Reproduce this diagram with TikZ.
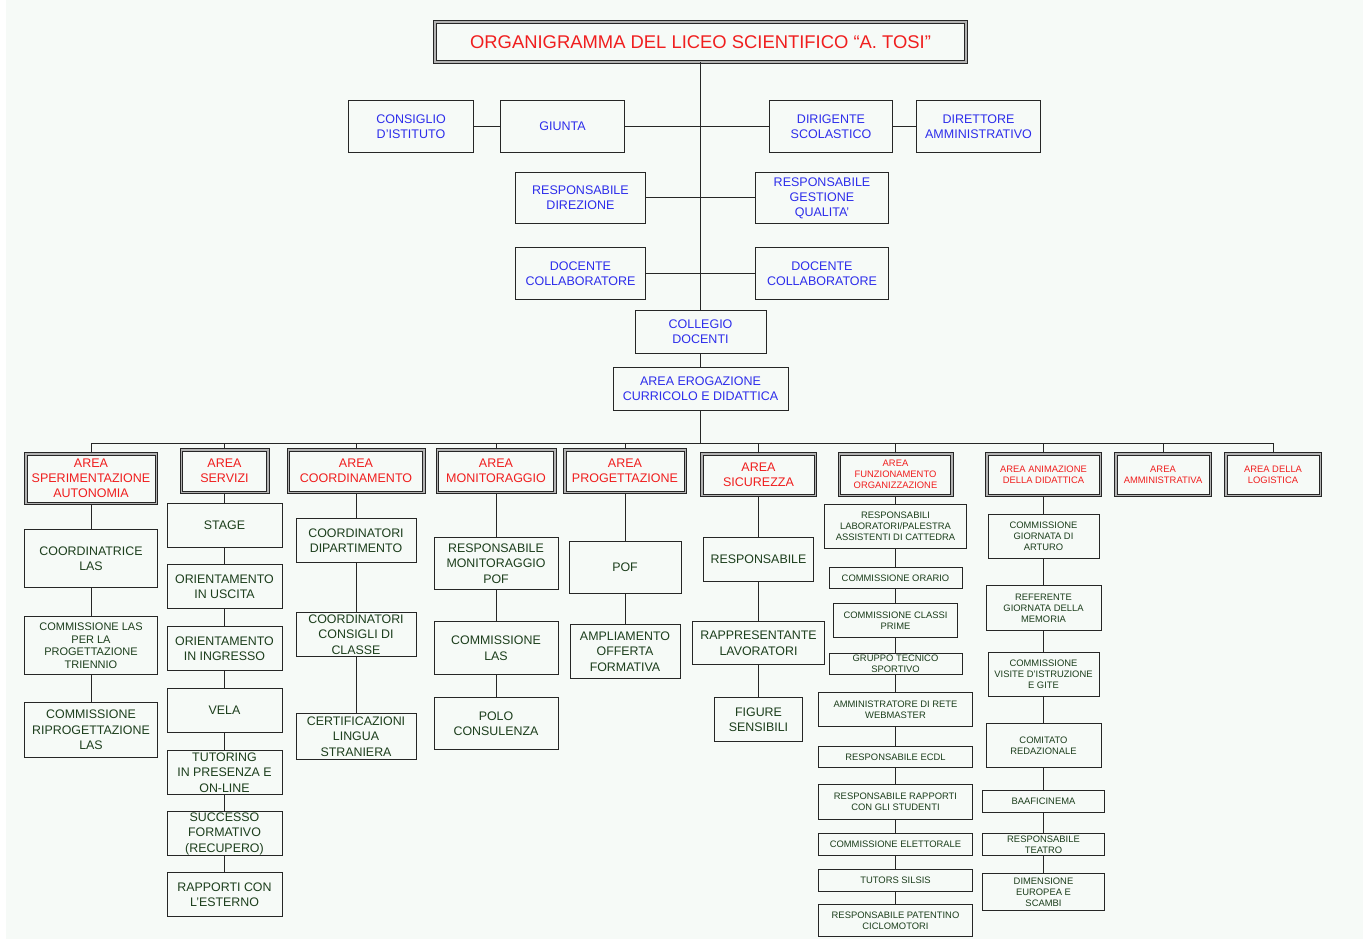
\documentclass[tikz,border=0pt]{standalone}
\usepackage{fontspec}
\setmainfont{Liberation Sans}
\definecolor{pagebg}{RGB}{246,250,247}
\definecolor{orgblue}{RGB}{45,45,235}
\definecolor{orgred}{RGB}{240,30,30}
\definecolor{orggreen}{RGB}{28,62,28}
\begin{document}
\begin{tikzpicture}[x=1pt,y=-1pt,
        box/.style={draw=black!85,line width=1pt,inner sep=0pt,align=center},
        bluebox/.style={box,text=orgblue,font=\fontsize{12.5}{15}\selectfont},
        greenbox/.style={box,text=orggreen,font=\fontsize{12.4}{15.5}\selectfont},
        smallgreen/.style={box,text=orggreen,font=\fontsize{9.4}{11}\selectfont},
        areabox/.style={draw=black!85,line width=1pt,double=gray!60,double distance=1.5pt,inner sep=0pt,align=center,text=orgred,font=\fontsize{12.5}{15}\selectfont},
        smallarea/.style={areabox,font=\fontsize{9.4}{11}\selectfont},
        titlebox/.style={areabox,font=\fontsize{18.4}{22}\selectfont},
        link/.style={line width=1pt,black!85}]
                \useasboundingbox (0,0) rectangle (1371,941);
                \fill[pagebg] (6,0) rectangle (1363,939);
                \node[titlebox,minimum width=531pt,minimum height=40pt] (title) at (700.5,42) {ORGANIGRAMMA DEL LICEO SCIENTIFICO “A. TOSI”};
                \node[bluebox,minimum width=125pt,minimum height=52pt] (consiglio) at (411,126.5) {CONSIGLIO\\D'ISTITUTO};
                \node[bluebox,minimum width=124pt,minimum height=52pt] (giunta) at (562.5,126.5) {GIUNTA};
                \node[bluebox,minimum width=123pt,minimum height=52pt] (dirigente) at (831,126.5) {DIRIGENTE\\SCOLASTICO};
                \node[bluebox,minimum width=124pt,minimum height=52pt] (direttore) at (978.5,126.5) {DIRETTORE\\AMMINISTRATIVO};
                \node[bluebox,minimum width=130pt,minimum height=51pt] (respdir) at (580.5,198) {RESPONSABILE\\DIREZIONE};
                \node[bluebox,minimum width=133pt,minimum height=51pt] (respqual) at (822,198) {RESPONSABILE\\GESTIONE\\QUALITA'};
                \node[bluebox,minimum width=130pt,minimum height=52pt] (docsx) at (580.5,273.5) {DOCENTE\\COLLABORATORE};
                \node[bluebox,minimum width=133pt,minimum height=52pt] (docdx) at (822,273.5) {DOCENTE\\COLLABORATORE};
                \node[bluebox,minimum width=131pt,minimum height=43pt] (collegio) at (700.5,332) {COLLEGIO\\DOCENTI};
                \node[bluebox,minimum width=175pt,minimum height=43pt] (erogazione) at (700.5,389) {AREA EROGAZIONE\\CURRICOLO E DIDATTICA};
                \draw[link] (title) -- (collegio);
                \draw[link] (consiglio) -- (giunta) -- (dirigente) -- (direttore);
                \draw[link] (respdir) -- (respqual);
                \draw[link] (docsx) -- (docdx);
                \draw[link] (collegio) -- (erogazione);
                \node[areabox,minimum width=130.5pt,minimum height=49.5pt] (sperim) at (91,478.5) {AREA\\SPERIMENTAZIONE\\AUTONOMIA};
                \node[areabox,minimum width=86.5pt,minimum height=42.5pt] (servizi) at (224.5,471) {AREA\\SERVIZI};
                \node[areabox,minimum width=135.5pt,minimum height=42.5pt] (coordin) at (356,471) {AREA\\COORDINAMENTO};
                \node[areabox,minimum width=117.5pt,minimum height=42.5pt] (monitor) at (496,471) {AREA\\MONITORAGGIO};
                \node[areabox,minimum width=120.5pt,minimum height=42.5pt] (progett) at (625,471) {AREA\\PROGETTAZIONE};
                \node[areabox,minimum width=113.5pt,minimum height=41.5pt] (sicur) at (758.5,474.5) {AREA\\SICUREZZA};
                \node[smallarea,minimum width=112.5pt,minimum height=41.5pt] (funzion) at (895.5,474.5) {AREA\\FUNZIONAMENTO\\ORGANIZZAZIONE};
                \node[smallarea,minimum width=113.5pt,minimum height=41.5pt] (animaz) at (1043.5,474.5) {AREA ANIMAZIONE\\DELLA DIDATTICA};
                \node[smallarea,minimum width=94.5pt,minimum height=41.5pt] (amminis) at (1163,474.5) {AREA\\AMMINISTRATIVA};
                \node[smallarea,minimum width=94.5pt,minimum height=41.5pt] (logist) at (1273,474.5) {AREA DELLA\\LOGISTICA};
                \coordinate (bus) at (700.5,443);
                \draw[link] (erogazione) -- (bus);
                \draw[link] (sperim.north |- bus) -- (logist.north |- bus);
                \foreach \a in {sperim,servizi,coordin,monitor,progett,sicur,funzion,animaz,amminis,logist}
                    \draw[link] (\a.north) -- (\a.north |- bus);
                \node[greenbox,minimum width=133pt,minimum height=58pt] (coordlas) at (91,558.5) {COORDINATRICE\\LAS};
                \node[greenbox,minimum width=133pt,minimum height=58pt,font=\fontsize{11}{12.5}\selectfont] (commlas) at (91,645.5) {COMMISSIONE LAS\\PER LA\\PROGETTAZIONE\\TRIENNIO};
                \node[greenbox,minimum width=133pt,minimum height=55pt] (riprog) at (91,730) {COMMISSIONE\\RIPROGETTAZIONE\\LAS};
                \draw[link] (sperim) -- (coordlas) -- (commlas) -- (riprog);
                \node[greenbox,minimum width=115pt,minimum height=44pt] (stage) at (224.5,525.5) {STAGE};
                \node[greenbox,minimum width=115pt,minimum height=44pt] (uscita) at (224.5,586.5) {ORIENTAMENTO\\IN USCITA};
                \node[greenbox,minimum width=115pt,minimum height=44pt] (ingresso) at (224.5,648.5) {ORIENTAMENTO\\IN INGRESSO};
                \node[greenbox,minimum width=115pt,minimum height=44pt] (vela) at (224.5,710) {VELA};
                \node[greenbox,minimum width=115pt,minimum height=44pt] (tutoring) at (224.5,772.5) {TUTORING\\IN PRESENZA E\\ON-LINE};
                \node[greenbox,minimum width=115pt,minimum height=44pt] (successo) at (224.5,833.5) {SUCCESSO\\FORMATIVO\\(RECUPERO)};
                \node[greenbox,minimum width=115pt,minimum height=44pt] (esterno) at (224.5,894.5) {RAPPORTI CON\\L'ESTERNO};
                \draw[link] (servizi) -- (stage) -- (uscita) -- (ingresso) -- (vela) -- (tutoring) -- (successo) -- (esterno);
                \node[greenbox,minimum width=120pt,minimum height=44pt] (dipart) at (356,540.5) {COORDINATORI\\DIPARTIMENTO};
                \node[greenbox,minimum width=120pt,minimum height=44pt] (consigli) at (356,634.5) {COORDINATORI\\CONSIGLI DI\\CLASSE};
                \node[greenbox,minimum width=120pt,minimum height=46pt] (certif) at (356,736.5) {CERTIFICAZIONI\\LINGUA\\STRANIERA};
                \draw[link] (coordin) -- (dipart) -- (consigli) -- (certif);
                \node[greenbox,minimum width=124pt,minimum height=52pt] (respmon) at (496,563.5) {RESPONSABILE\\MONITORAGGIO\\POF};
                \node[greenbox,minimum width=124pt,minimum height=53pt] (commmon) at (496,648) {COMMISSIONE\\LAS};
                \node[greenbox,minimum width=124pt,minimum height=52pt] (polo) at (496,723.5) {POLO\\CONSULENZA};
                \draw[link] (monitor) -- (respmon) -- (commmon) -- (polo);
                \node[greenbox,minimum width=112pt,minimum height=52pt] (pof) at (625,567.5) {POF};
                \node[greenbox,minimum width=110pt,minimum height=54pt] (ampliam) at (625,651.5) {AMPLIAMENTO\\OFFERTA\\FORMATIVA};
                \draw[link] (progett) -- (pof) -- (ampliam);
                \node[greenbox,minimum width=110pt,minimum height=44pt] (respsic) at (758.5,559.5) {RESPONSABILE};
                \node[greenbox,minimum width=132pt,minimum height=43pt] (rappr) at (758.5,643) {RAPPRESENTANTE\\LAVORATORI};
                \node[greenbox,minimum width=88pt,minimum height=44pt] (figure) at (758.5,719.5) {FIGURE\\SENSIBILI};
                \draw[link] (sicur) -- (respsic) -- (rappr) -- (figure);
                \node[smallgreen,minimum width=142pt,minimum height=44pt] (laborat) at (895.5,526.5) {RESPONSABILI\\LABORATORI/PALESTRA\\ASSISTENTI DI CATTEDRA};
                \node[smallgreen,minimum width=133pt,minimum height=21pt] (orario) at (895.5,578) {COMMISSIONE ORARIO};
                \node[smallgreen,minimum width=124pt,minimum height=34pt] (prime) at (895.5,620.5) {COMMISSIONE CLASSI\\PRIME};
                \node[smallgreen,minimum width=133pt,minimum height=21pt] (sportivo) at (895.5,664) {GRUPPO TECNICO\\SPORTIVO};
                \node[smallgreen,minimum width=154pt,minimum height=34pt] (webmaster) at (895.5,709.5) {AMMINISTRATORE DI RETE\\WEBMASTER};
                \node[smallgreen,minimum width=154pt,minimum height=21pt] (ecdl) at (895.5,757) {RESPONSABILE ECDL};
                \node[smallgreen,minimum width=154pt,minimum height=35pt] (studenti) at (895.5,802) {RESPONSABILE RAPPORTI\\CON GLI STUDENTI};
                \node[smallgreen,minimum width=154pt,minimum height=22pt] (elettorale) at (895.5,844.5) {COMMISSIONE ELETTORALE};
                \node[smallgreen,minimum width=154pt,minimum height=22pt] (silsis) at (895.5,880.5) {TUTORS SILSIS};
                \node[smallgreen,minimum width=154pt,minimum height=32pt] (patentino) at (895.5,920.5) {RESPONSABILE PATENTINO\\CICLOMOTORI};
                \draw[link] (funzion) -- (laborat) -- (orario) -- (prime) -- (sportivo) -- (webmaster) -- (ecdl) -- (studenti) -- (elettorale) -- (silsis) -- (patentino);
                \node[smallgreen,minimum width=111pt,minimum height=44pt] (arturo) at (1043.5,536.5) {COMMISSIONE\\GIORNATA DI\\ARTURO};
                \node[smallgreen,minimum width=115pt,minimum height=45pt] (memoria) at (1043.5,608) {REFERENTE\\GIORNATA DELLA\\MEMORIA};
                \node[smallgreen,minimum width=111pt,minimum height=44pt] (gite) at (1043.5,674.5) {COMMISSIONE\\VISITE D'ISTRUZIONE\\E GITE};
                \node[smallgreen,minimum width=115pt,minimum height=44pt] (redaz) at (1043.5,745.5) {COMITATO\\REDAZIONALE};
                \node[smallgreen,minimum width=122pt,minimum height=22pt] (baaf) at (1043.5,801.5) {BAAFICINEMA};
                \node[smallgreen,minimum width=122pt,minimum height=22pt] (teatro) at (1043.5,844.5) {RESPONSABILE\\TEATRO};
                \node[smallgreen,minimum width=122pt,minimum height=37pt] (europa) at (1043.5,892) {DIMENSIONE\\EUROPEA E\\SCAMBI};
                \draw[link] (animaz) -- (arturo) -- (memoria) -- (gite) -- (redaz) -- (baaf) -- (teatro) -- (europa);
            \end{tikzpicture}
\end{document}
